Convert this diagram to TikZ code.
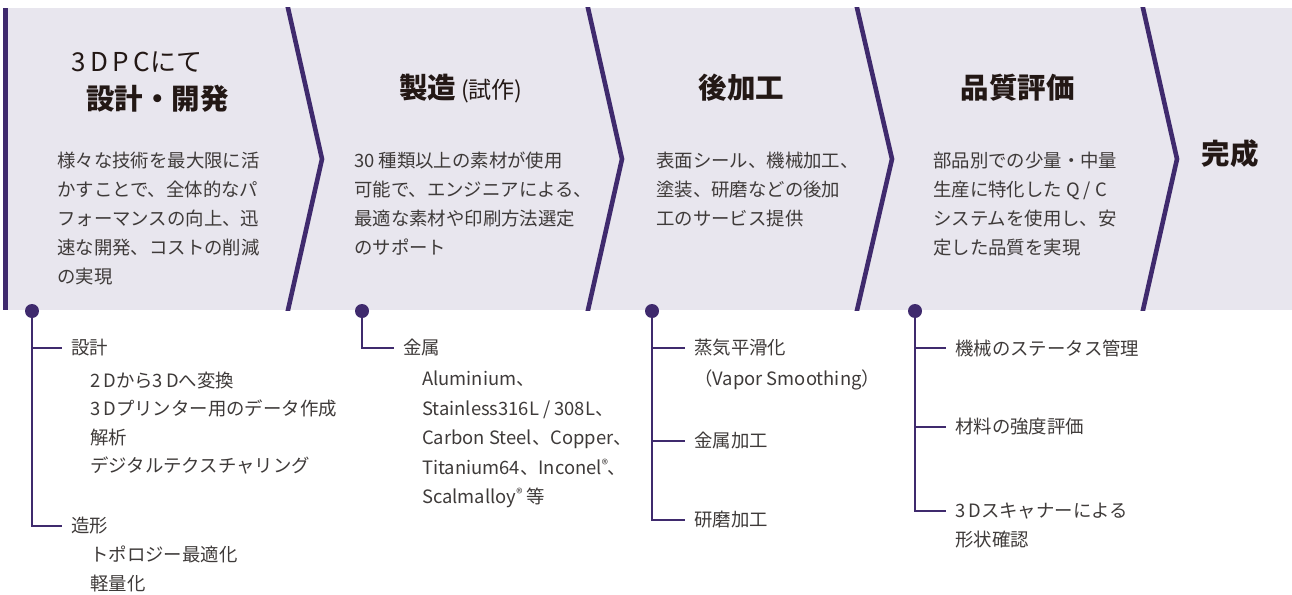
\documentclass[tikz,border=0pt]{standalone}
\usepackage{fontspec}
\setmainfont{Noto Sans CJK JP}
\definecolor{purp}{HTML}{3F2A6D}
\definecolor{bandc}{HTML}{E8E6EE}
\definecolor{titlec}{HTML}{231815}
\definecolor{bodyc}{HTML}{3E3A39}
\newcommand{\regmark}{{\fontsize{13}{13}\selectfont\raisebox{5pt}{®}}}
\tikzset{
  chev/.style={draw=purp, line width=4.6pt},
  dot/.style={circle, fill=purp, minimum size=14pt, inner sep=0pt},
  conn/.style={draw=purp, line width=2.6pt},
  ttl/.style={text=titlec, font=\bfseries\fontsize{28.5}{30}\selectfont, inner sep=0pt, anchor=base},
  body/.style={text=bodyc, font=\fontsize{18.4}{29}\selectfont, align=left, inner sep=0pt, anchor=base west},
  item/.style={text=bodyc, font=\fontsize{18.4}{29}\selectfont, inner xsep=9pt, inner ysep=0pt, anchor=west},
  sub/.style={text=bodyc, font=\fontsize{18.4}{29}\selectfont, inner sep=0pt, anchor=base west},
}
\begin{document}
\begin{tikzpicture}[x=1pt, y=-1pt]
\useasboundingbox (0,0) rectangle (1292,594);
% band
\fill[bandc] (3,8) rectangle (1292,310);
\fill[purp] (3,8) rectangle (8,310);
\begin{scope}
  \clip (3,8) rectangle (1292,310);
  \foreach \a/\b in {288/322, 588/622, 857/892, 1143/1177}
    \draw[chev] ({\a-2.25},-2) -- (\b,159) -- ({\a-2.25},320);
\end{scope}
% titles
\node[text=titlec, font=\fontsize{26}{28}\selectfont, inner sep=0pt, anchor=base] (t1a) at (137,71) {3\,D\,P\,Cにて};
\node[ttl] (t1b) at (157.5,109) {設計・開発};
\node[ttl] (t2) at (461,98) {製造\,{\mdseries\fontsize{23}{23}\selectfont (試作)}};
\node[ttl] (t3) at (741.5,98) {後加工};
\node[ttl] (t4) at (1017.5,98) {品質評価};
\node[ttl] (t5) at (1230,164) {完成};
% body texts (anchor = baseline of last line)
\node[body] (b1) at (57,283) {様々な技術を最大限に活\\かすことで、全体的なパ\\フォーマンスの向上、迅\\速な開発、コストの削減\\の実現};
\node[body] (b2) at (354,254) {30 種類以上の素材が使用\\可能で、エンジニアによる、\\最適な素材や印刷方法選定\\のサポート};
\node[body] (b3) at (656,225) {表面シール、機械加工、\\塗装、研磨などの後加\\工のサービス提供};
\node[body] (b4) at (933,254) {部品別での少量・中量\\生産に特化した Q / C\\システムを使用し、安\\定した品質を実現};
% dots
\node[dot] (d1) at (32,311) {};
\node[dot] (d2) at (362,311) {};
\node[dot] (d3) at (652,311) {};
\node[dot] (d4) at (915,311) {};
% panel 1 list
\node[item] (i11) at (62,348) {設計};
\node[sub] (s11) at (90,387) {2\,Dから3\,Dへ変換};
\node[sub] (s12) at (90,415) {3\,Dプリンター用のデータ作成};
\node[sub] (s13) at (90,444) {解析};
\node[sub] (s14) at (90,472) {デジタルテクスチャリング};
\node[item] (i12) at (62,526) {造形};
\node[sub] (s15) at (90,561) {トポロジー最適化};
\node[sub] (s16) at (90,590) {軽量化};
% panel 2 list
\node[item] (i21) at (394,348) {金属};
\node[sub] (s21) at (422,385) {Aluminium、};
\node[sub] (s22) at (422,415) {Stainless316L / 308L、};
\node[sub] (s23) at (422,444) {Carbon Steel、Copper、};
\node[sub] (s24) at (422,474) {Titanium64、Inconel\regmark、};
\node[sub] (s25) at (422,503) {Scalmalloy\regmark\ 等};
% panel 3 list
\node[item] (i31) at (685,348) {蒸気平滑化};
\node[sub] (s31) at (694,385) {（Vapor Smoothing）};
\node[item] (i32) at (685,441) {金属加工};
\node[item] (i33) at (685,520) {研磨加工};
% panel 4 list
\node[item] (i41) at (946,348) {機械のステータス管理};
\node[item] (i42) at (946,427) {材料の強度評価};
\node[item] (i43) at (946,511) {3\,Dスキャナーによる};
\node[sub] (s41) at (955,546) {形状確認};
% connectors
\draw[conn] (d1.south) |- (i11.west);
\draw[conn] (d1.south) |- (i12.west);
\draw[conn] (d2.south) |- (i21.west);
\draw[conn] (d3.south) |- (i31.west);
\draw[conn] (d3.south) |- (i32.west);
\draw[conn] (d3.south) |- (i33.west);
\draw[conn] (d4.south) |- (i41.west);
\draw[conn] (d4.south) |- (i42.west);
\draw[conn] (d4.south) |- (i43.west);
\end{tikzpicture}
\end{document}
